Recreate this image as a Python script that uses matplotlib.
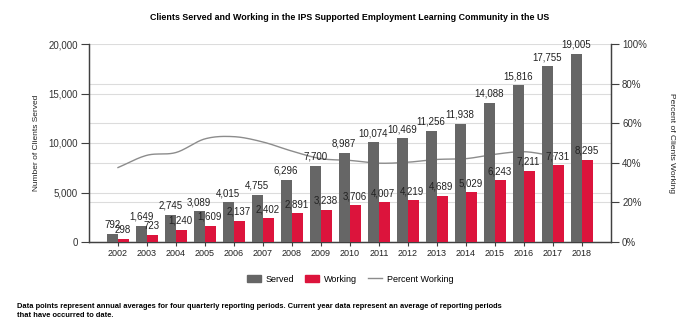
import matplotlib
matplotlib.use("Agg")
import matplotlib.pyplot as plt
import numpy as np
from matplotlib.ticker import FuncFormatter, FixedLocator
from matplotlib.patches import Patch
from matplotlib.lines import Line2D

plt.rcParams['font.family'] = ['Liberation Sans', 'DejaVu Sans']

years = ["2002", "2003", "2004", "2005", "2006", "2007", "2008", "2009", "2010",
         "2011", "2012", "2013", "2014", "2015", "2016", "2017", "2018"]
served = [792, 1649, 2745, 3089, 4015, 4755, 6296, 7700, 8987,
          10074, 10469, 11256, 11938, 14088, 15816, 17755, 19005]
working = [298, 723, 1240, 1609, 2137, 2402, 2891, 3238, 3706,
           4007, 4219, 4689, 5029, 6243, 7211, 7731, 8295]
percent_working = [37.6, 43.8, 45.2, 52.1, 53.2, 50.5, 45.9, 42.1, 41.2,
                   39.8, 40.3, 41.7, 42.1, 44.3, 45.6, 43.5]

title = "Clients Served and Working in the IPS Supported Employment Learning Community in the US"
footnote = ("Data points represent annual averages for four quarterly reporting periods. Current year data represent an average of reporting periods\n"
            "that have occurred to date.")

C_SERVED = "#666666"
C_WORK = "#DC143C"
C_LINE = "#8c8c8c"
C_GRID = "#dcdcdc"
C_AX = "#404040"

fig = plt.figure(figsize=(7.0, 3.35), dpi=100)
ax = fig.add_axes([89/700, 1-242/335, (611-89)/700, (242-44)/335])
ax2 = ax.twinx()

x = np.arange(len(years))
w = 0.39
off = 0.2

ax.set_zorder(2)
ax.patch.set_visible(False)
ax2.set_zorder(1)

def catmull(xs, ys, n=20):
    xs = np.asarray(xs, float); ys = np.asarray(ys, float)
    px = np.concatenate([[2*xs[0]-xs[1]], xs, [2*xs[-1]-xs[-2]]])
    py = np.concatenate([[2*ys[0]-ys[1]], ys, [2*ys[-1]-ys[-2]]])
    ox, oy = [], []
    for i in range(1, len(px)-2):
        t = np.linspace(0, 1, n, endpoint=False)
        for arr, out in ((px, ox), (py, oy)):
            p0, p1, p2, p3 = arr[i-1], arr[i], arr[i+1], arr[i+2]
            out.extend(0.5*((2*p1) + (-p0+p2)*t + (2*p0-5*p1+4*p2-p3)*t**2 + (-p0+3*p1-3*p2+p3)*t**3))
    ox.append(xs[-1]); oy.append(ys[-1])
    return np.array(ox), np.array(oy)

px, py = catmull(x[:len(percent_working)], percent_working)
ax2.plot(px, py, color=C_LINE, lw=1.0, zorder=1)

ax2.set_ylim(0, 100)
ax2.yaxis.set_major_locator(FixedLocator([0, 20, 40, 60, 80, 100]))
ax2.yaxis.set_major_formatter(FuncFormatter(lambda v, p: f"{int(v)}%"))
ax2.grid(axis='y', color=C_GRID, lw=0.8)
ax2.set_axisbelow(True)

ax.bar(x - off, served, width=w, color=C_SERVED, zorder=3)
ax.bar(x + off, working, width=w, color=C_WORK, zorder=3)
ax.set_ylim(0, 20000)
ax.set_xlim(-1, len(years))
ax.yaxis.set_major_locator(FixedLocator([0, 5000, 10000, 15000, 20000]))
ax.yaxis.set_major_formatter(FuncFormatter(lambda v, p: f"{int(v):,}"))
for v in [5000, 10000, 15000]:
    ax2.axhline(v / 200, color=C_GRID, lw=0.8, zorder=0)

for xi, s, wk in zip(x, served, working):
    ax.annotate(f"{s:,}", (xi - off, s), xytext=(0, 3), textcoords='offset points',
                ha='center', va='bottom', fontsize=7, color="#222222", zorder=5)
    ax.annotate(f"{wk:,}", (xi + off - 0.05, wk), xytext=(0, 3), textcoords='offset points',
                ha='center', va='bottom', fontsize=7, color="#222222", zorder=5)

ax.set_xticks(x)
ax.set_xticklabels(years, fontsize=6.5, color="#222222")
ax.tick_params(axis='x', length=3, color=C_AX, pad=2)
ax.tick_params(axis='y', labelsize=7, length=6, color=C_AX, labelcolor="#333333", pad=2)
ax2.tick_params(axis='y', labelsize=7, length=6, color=C_AX, labelcolor="#333333", pad=2)

for a in (ax, ax2):
    a.spines['top'].set_visible(False)
    for s in ('left', 'right', 'bottom'):
        a.spines[s].set_color(C_AX)
        a.spines[s].set_linewidth(0.9)

ax.set_ylabel("Number of Clients Served", fontsize=6, labelpad=6, color="#222222")
ax2.set_ylabel("Percent of Clients Working", fontsize=6, rotation=270, labelpad=20, color="#222222")

fig.text(0.5, 1-17/335, title, ha='center', va='center', fontsize=6.4, fontweight='bold')
fig.text(17/700, 1-311/335, footnote, ha='left', va='center', fontsize=5.4, fontweight='bold',
         linespacing=1.3)

handles = [Patch(color=C_SERVED), Patch(color=C_WORK), Line2D([0], [0], color=C_LINE, lw=1.0)]
fig.legend(handles, ["Served", "Working", "Percent Working"], loc='center',
           bbox_to_anchor=(350/700, 1-279/335), ncol=3, frameon=False, fontsize=6.5,
           handlelength=1.6, handleheight=0.8, columnspacing=1.2, handletextpad=0.5)

fig.savefig("out.png", dpi=100)
